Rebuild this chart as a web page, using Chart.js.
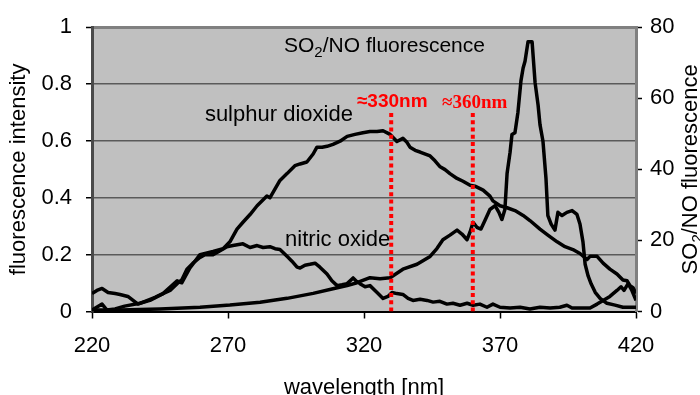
<!DOCTYPE html>
<html><head><meta charset="utf-8">
<script src="https://cdn.jsdelivr.net/npm/chart.js@4"></script>
<style>html,body{margin:0;padding:0;background:#fff;}</style>
</head><body>
<canvas id="c" width="700" height="395"></canvas>
<script>
// ---- data ----
const xTicks = [220, 270, 320, 370, 420];
const yTicks = [0, 0.2, 0.4, 0.6, 0.8, 1];
const y2Ticks = [0, 20, 40, 60, 80];

const so2Wl = [220,223.7,225.5,228.5,232,237.6,241.3,246.1,251.3,253,256,259.7,264.5,268.2,270.7,273.3,275.5,278.1,280.7,284.3,285.4,289.1,291.7,294.6,296.5,299,301.3,302.7,304.6,306.4,308.6,311.2,313.8,316.7,319.6,322.2,324.8,327,329.6,331.4,332.1,334.3,335.8,336.9,338.8,340.6,344.3,346.1,348,349.8,351.6,354.2,356.4,359,360.8,363.8,366.3,367.4,370,372.6,375.5,378.5,381,384.7,387.6,391,393.9,396.8,399.4,402,403.1,405.7,407.9,410.4,413,415.2,416.7,417.8,418.9,420];
const so2Val = [0.005,0.026,0.005,0.009,0.019,0.029,0.039,0.063,0.108,0.101,0.153,0.2,0.211,0.221,0.245,0.29,0.314,0.341,0.372,0.406,0.4,0.461,0.485,0.513,0.519,0.526,0.554,0.578,0.578,0.581,0.588,0.599,0.616,0.623,0.629,0.633,0.633,0.636,0.623,0.605,0.598,0.609,0.595,0.578,0.567,0.561,0.547,0.53,0.509,0.499,0.485,0.468,0.458,0.444,0.441,0.427,0.406,0.389,0.372,0.365,0.355,0.338,0.32,0.29,0.269,0.245,0.228,0.218,0.204,0.183,0.194,0.194,0.17,0.149,0.132,0.111,0.108,0.091,0.084,0.063];

const noWl = [220,221.8,223.7,225.9,228.5,230.3,233.2,235.1,236.9,239.5,243.2,246.1,248.7,251.3,253,254.9,257.1,259.7,261.5,264.5,267.1,269.6,271.8,275.5,278.1,280.7,282.9,285.4,287.3,289.1,291.7,293.5,295.4,296.5,298.3,300.1,302,303.8,306.4,308.2,310.1,311.9,313.8,316,317.4,318.5,320.4,322.2,324.8,327,328.8,330.3,332.1,334.3,336.2,338,340.6,343.2,345.4,347.9,350.5,352.7,355.3,357.9,360.1,362.6,365.2,367.4,370,373.7,377.4,381,384.7,388.4,392,394.6,396.5,399.4,403.1,405.7,407.9,410.4,413,414.5,415.6,417.1,418.5,420];
const noVal = [0.063,0.074,0.081,0.067,0.063,0.06,0.053,0.039,0.026,0.036,0.05,0.063,0.074,0.098,0.111,0.149,0.17,0.19,0.2,0.2,0.214,0.228,0.232,0.238,0.225,0.232,0.225,0.228,0.221,0.218,0.194,0.177,0.156,0.153,0.163,0.166,0.17,0.156,0.132,0.108,0.091,0.094,0.098,0.118,0.105,0.098,0.087,0.091,0.067,0.046,0.053,0.067,0.063,0.06,0.046,0.039,0.043,0.039,0.033,0.036,0.026,0.029,0.022,0.029,0.022,0.026,0.015,0.026,0.015,0.012,0.015,0.009,0.015,0.012,0.015,0.022,0.012,0.012,0.012,0.026,0.039,0.053,0.074,0.087,0.074,0.098,0.074,0.039];

const ratioWl = [220,230.3,245,259.7,270.7,281.8,291.7,301.3,308.6,313.8,317.4,322.2,325.9,329.6,334.3,339.5,344.3,346.8,349,351.6,354.2,356,357.9,359,360.1,361.5,363,364.5,366.3,368.2,369.6,370.7,371.8,372.6,373.7,374.4,375.5,376.6,377.7,378.5,379.2,380.3,381.8,382.9,384,384.7,385.8,386.9,387.6,388.8,390.2,391.3,392.8,394.6,396.5,398.3,399.4,400.5,401.3,402.4,403.5,405,406.8,409.3,412.3,415.2,420];
const ratioVal = [0.4,0.4,0.7,1.2,1.8,2.6,3.7,5.1,6.4,7.3,8.1,9.5,9.2,9.5,11.9,13.3,15.5,17.7,20.2,21.5,22.9,21.8,20.2,22.4,25.1,23.7,23.2,25.7,28.7,29.8,27.9,25.9,28.7,38.8,44.8,49.8,50.3,56.1,64.9,68.5,70.4,75.9,75.9,64.4,58.1,52.6,47.9,37.5,27,24.6,22.9,27.9,27,27.9,28.4,27.3,24.6,19.6,13.3,10,7.8,5.4,3.7,2.3,1.8,1.2,1.2];

const markerWl = [330, 360];
const markerTop = 0.70;

// ---- build ----
const pts = (xs, ys) => xs.map((x, i) => ({x: x, y: ys[i]}));
const FONT = '"Liberation Sans", Arial, sans-serif';

const datasets = [];
markerWl.forEach(w => datasets.push({
  data: [{x: w, y: 0}, {x: w, y: markerTop}],
  borderColor: '#ff0000', borderWidth: 4, borderDash: [4, 3.2],
  borderCapStyle: 'butt', pointRadius: 0, yAxisID: 'y', order: 0
}));
const lineStyle = {borderColor: '#000', borderWidth: 3.5, pointRadius: 0, tension: 0, borderJoinStyle: 'round', order: 1, fill: false};
datasets.push(Object.assign({label: 'sulphur dioxide', data: pts(so2Wl, so2Val), yAxisID: 'y'}, lineStyle));
datasets.push(Object.assign({label: 'nitric oxide', data: pts(noWl, noVal), yAxisID: 'y'}, lineStyle));
datasets.push(Object.assign({label: 'SO2/NO fluorescence', data: pts(ratioWl, ratioVal), yAxisID: 'y2'}, lineStyle));

const notes = [
  {text: 'sulphur dioxide', wl: 261.5, v: 0.671, font: '22px ' + FONT, color: '#000'},
  {text: 'nitric oxide', wl: 291, v: 0.232, font: '22px ' + FONT, color: '#000'},
  {text: '\u2248330nm', wl: 317.4, v: 0.719, font: 'bold 19px ' + FONT, color: '#ff0000'},
  {text: '\u2248360nm', wl: 348.7, v: 0.715, font: 'bold 19px "Liberation Serif", "Times New Roman", serif', color: '#ff0000'}
];

function drawSub(ctx, parts, x, y, big) {
  let cx = x;
  parts.forEach(p => {
    ctx.font = p[1] ? '15px ' + FONT : big + 'px ' + FONT;
    ctx.fillText(p[0], cx, y + (p[1] ? 5 : 0));
    cx += ctx.measureText(p[0]).width;
  });
}

const deco = {
  id: 'deco',
  beforeDraw(chart) {
    const {ctx, chartArea: a} = chart;
    ctx.save();
    ctx.fillStyle = '#fff';
    ctx.fillRect(0, 0, chart.width, chart.height);
    ctx.fillStyle = '#c0c0c0';
    ctx.fillRect(a.left, a.top, a.right - a.left, a.bottom - a.top);
    ctx.restore();
  },
  afterDraw(chart) {
    const {ctx} = chart;
    const xs = chart.scales.x, ys = chart.scales.y, y2 = chart.scales.y2;
    ctx.save();
    ctx.textAlign = 'left';
    ctx.textBaseline = 'alphabetic';
    notes.forEach(n => {
      ctx.font = n.font; ctx.fillStyle = n.color;
      ctx.fillText(n.text, xs.getPixelForValue(n.wl), ys.getPixelForValue(n.v));
    });
    ctx.fillStyle = '#000';
    const parts = [['SO', 0], ['2', 1], ['/NO fluorescence', 0]];
    drawSub(ctx, parts, xs.getPixelForValue(290.6), ys.getPixelForValue(0.914), 21);
    // right axis title, reading bottom to top
    let w = 0;
    parts.forEach(p => { ctx.font = p[1] ? '15px ' + FONT : '22px ' + FONT; w += ctx.measureText(p[0]).width; });
    const cy = (y2.top + y2.bottom) / 2;
    ctx.translate(697, cy + w / 2);
    ctx.rotate(-Math.PI / 2);
    drawSub(ctx, parts, 0, 0, 22);
    ctx.restore();
  }
};

new Chart(document.getElementById('c'), {
  type: 'line',
  data: {datasets},
  plugins: [deco],
  options: {
    responsive: false, animation: false, devicePixelRatio: 1,
    layout: {padding: {top: 20, left: 0, right: 0, bottom: 0}},
    plugins: {legend: {display: false}, tooltip: {enabled: false}},
    scales: {
      x: {
        type: 'linear', min: 220, max: 420,
        afterBuildTicks: s => { s.ticks = xTicks.map(v => ({value: v})); },
        afterFit: s => { s.height = 83.5; },
        grid: {drawOnChartArea: false, drawTicks: true, tickLength: 7, tickColor: '#000', tickWidth: 1.5},
        border: {display: true, color: '#000', width: 2},
        ticks: {font: {family: FONT, size: 22}, color: '#000', padding: 14, maxRotation: 0, callback: v => String(v)},
        title: {display: true, text: 'wavelength [nm]', color: '#000', font: {family: FONT, size: 22, lineHeight: 1.2}, padding: {top: 0, bottom: -6}}
      },
      y: {
        type: 'linear', position: 'left', min: 0, max: 1,
        afterBuildTicks: s => { s.ticks = yTicks.map(v => ({value: v})); },
        afterFit: s => { s.width = 92; },
        grid: {
          color: c => c.tick && c.tick.value === 1 ? '#808080' : (c.tick && c.tick.value === 0 ? '#000' : '#5a5a5a'),
          lineWidth: c => c.tick && c.tick.value === 1 ? 3 : 1.5,
          tickLength: 6, tickColor: '#000', tickWidth: 1.5
        },
        border: {display: true, color: '#4a4a4a', width: 3},
        ticks: {font: {family: FONT, size: 22}, color: '#000', padding: 14, callback: v => String(v)},
        title: {display: true, text: 'fluorescence intensity', color: '#000', font: {family: FONT, size: 22, lineHeight: 1.2}, padding: {top: 6, bottom: 0}}
      },
      y2: {
        type: 'linear', position: 'right', min: 0, max: 80,
        afterBuildTicks: s => { s.ticks = y2Ticks.map(v => ({value: v})); },
        afterFit: s => { s.width = 64; },
        grid: {drawOnChartArea: false, tickLength: 6, tickColor: '#000', tickWidth: 1.5},
        border: {display: true, color: '#808080', width: 3},
        ticks: {font: {family: FONT, size: 22}, color: '#000', padding: 8, callback: v => String(v)}
      }
    }
  }
});
</script>
</body></html>
